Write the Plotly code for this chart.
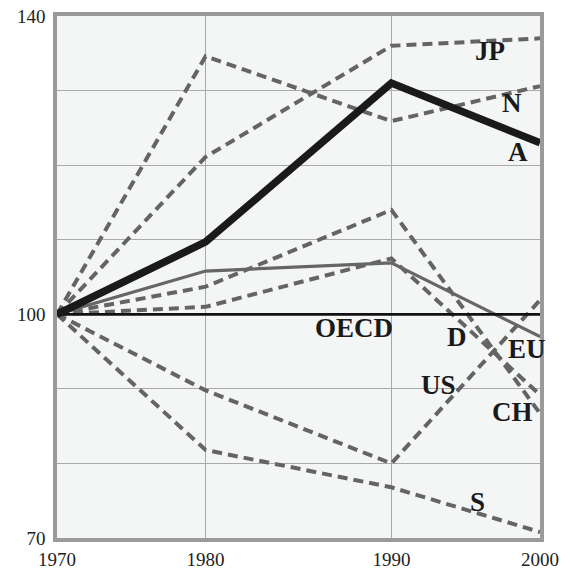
import plotly.graph_objects as go

# Data (index 1970 = 100)
years = ["1970", "1980", "1990", "2000"]
year_pos = [0, 4, 9, 13]  # horizontal spacing of the original chart's year axis

A = [100, 109.7, 131.0, 123.0]
JP = [100, 121.1, 136.0, 137.0]
N = [100, 134.6, 125.9, 130.6]
D = [100, 101.0, 107.5, 89.2]
CH = [100, 103.7, 114.0, 86.7]
US = [100, 89.8, 80.0, 101.9]
S = [100, 81.8, 76.8, 70.8]
EU = [100, 105.8, 106.9, 97.0]
OECD = [100, 100, 100, 100]

y_ticks = [70, 80, 90, 100, 110, 120, 130, 140]
y_ticktext = ["70", "", "", "100", "", "", "", "140"]

DASH_COL = "#646464"
fig = go.Figure()

for series in [JP, N, D, CH, US, S]:
    fig.add_trace(go.Scatter(x=year_pos, y=series, mode="lines",
                             line=dict(color=DASH_COL, width=4, dash="10px,6px"),
                             showlegend=False, hoverinfo="skip"))
fig.add_trace(go.Scatter(x=year_pos, y=EU, mode="lines",
                         line=dict(color="#666666", width=3.2), showlegend=False))
fig.add_trace(go.Scatter(x=year_pos, y=OECD, mode="lines",
                         line=dict(color="#111111", width=2.8), showlegend=False))
fig.add_trace(go.Scatter(x=year_pos, y=A, mode="lines",
                         line=dict(color="#1a1a1a", width=7.5), showlegend=False))

labels = [
    ("JP", 11.66, 135.3), ("N", 12.25, 128.3), ("A", 12.41, 121.8),
    ("OECD", 7.99, 98.2), ("D", 10.77, 97.0), ("EU", 12.65, 95.3),
    ("US", 10.26, 90.5), ("CH", 12.25, 86.9), ("S", 11.33, 74.8),
]
for text, x, y in labels:
    fig.add_annotation(x=x, y=y, text="<b>%s</b>" % text, showarrow=False,
                       font=dict(family="Liberation Serif", size=27, color="#1a1a1a"))

fig.update_layout(
    width=570, height=573,
    margin=dict(l=57, r=30, t=16, b=35, autoexpand=False),
    paper_bgcolor="white", plot_bgcolor="#f4f6f6",
    font=dict(family="Liberation Serif", size=19, color="#222222"),
)
fig.update_xaxes(range=[0, 13], tickvals=year_pos, ticktext=years,
                 showgrid=True, gridcolor="#aaaaaa", gridwidth=1.3,
                 showline=True, linecolor="#9a9a9a", linewidth=3.5, mirror=True,
                 ticks="outside", ticklen=1, tickcolor="rgba(0,0,0,0)",
                 zeroline=False, fixedrange=True, automargin=False)
fig.update_yaxes(range=[70, 140], tickvals=y_ticks, ticktext=y_ticktext,
                 showgrid=True, gridcolor="#aaaaaa", gridwidth=1.3,
                 showline=True, linecolor="#9a9a9a", linewidth=3.5, mirror=True,
                 ticks="outside", ticklen=4, tickcolor="rgba(0,0,0,0)",
                 zeroline=False, fixedrange=True, automargin=False)

fig.write_html("out.html", config={"displayModeBar": False},
               post_script="document.body.style.margin='0';")
